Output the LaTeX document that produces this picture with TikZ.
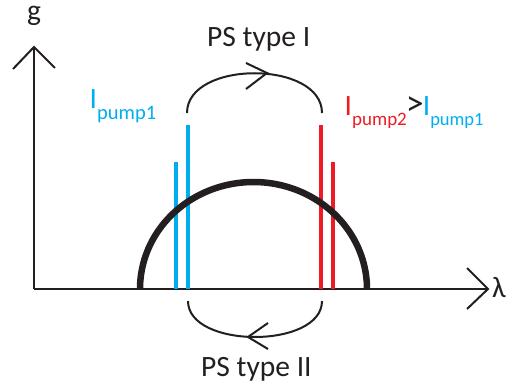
\documentclass[tikz,border=0pt]{standalone}
\usepackage{fontspec}
\setmainfont{Carlito}
\definecolor{pcyan}{RGB}{0,174,239}
\definecolor{pred}{RGB}{237,28,36}
\definecolor{ink}{RGB}{35,31,32}
\begin{document}
\begin{tikzpicture}[x=1pt,y=-1pt,
  axis/.style={line width=2pt, color=ink, line join=miter},
  arcline/.style={line width=2pt, color=ink},
  bar/.style={line width=4pt},
  bigtxt/.style={inner sep=0pt, anchor=base west, font=\fontsize{29.5}{30}\selectfont}]
\useasboundingbox (0,0) rectangle (507,385);
% axes
\coordinate (o) at (34,289);
\coordinate (ytip) at (34,47);
\coordinate (xtip) at (488,289);
\draw[axis] (o) -- (ytip);
\draw[axis] (o) -- (xtip);
\coordinate (yw1) at (13,69);
\coordinate (yw2) at (55,68);
\draw[axis] (yw1) -- (ytip) -- (yw2);
\coordinate (xw1) at (467,268);
\coordinate (xw2) at (467,309);
\draw[axis] (xw1) -- (xtip) -- (xw2);
\node[bigtxt, anchor=base, color=ink] (g) at (34,21) {g};
\node[bigtxt, color=ink] (lam) at (492,298) {λ};
% pump bars
\foreach \x/\t/\c in {176/162/pcyan, 188/125/pcyan, 321/125/pred, 333/162/pred}{
  \draw[bar, \c] (\x,289) -- (\x,\t);
}
% gain curve
\draw[line width=6.5pt, color=ink] plot[domain=0:180, samples=90] ({253.5+113.5*cos(\x)}, {289-107*sin(\x)});
% top arc
\coordinate (a1) at (187,113);
\coordinate (a2) at (322,113);
\draw[arcline] (a1) .. controls (187,60) and (322,60) .. (a2);
\coordinate (t1) at (267,73);
\coordinate (t1a) at (246,63);
\coordinate (t1b) at (246,89);
\draw[arcline] (t1a) -- (t1) -- (t1b);
% bottom arc
\coordinate (b1) at (188,301);
\coordinate (b2) at (322,301);
\draw[arcline] (b1) .. controls (188,349) and (322,349) .. (b2);
\coordinate (t2) at (248,337);
\coordinate (t2a) at (268,323);
\coordinate (t2b) at (268,349);
\draw[arcline] (t2a) -- (t2) -- (t2b);
% labels
\node[bigtxt, color=ink] (ps1) at (207,47) {PS type I};
\node[bigtxt, color=ink] (ps2) at (201,377) {PS type II};
\node[bigtxt, color=pcyan] (lp1) at (89.5,109) {I\raisebox{-11pt}{\fontsize{20.5}{21}\selectfont pump1}};
\node[bigtxt] (lp2) at (344.5,116) {\textcolor{pred}{I\raisebox{-10pt}{\fontsize{19}{20}\selectfont pump2}}\kern-1pt\textcolor{ink}{\fontsize{36}{36}\selectfont >}\kern-1pt\textcolor{pcyan}{I\raisebox{-10pt}{\fontsize{18.5}{20}\selectfont pump1}}};
\end{tikzpicture}
\end{document}
